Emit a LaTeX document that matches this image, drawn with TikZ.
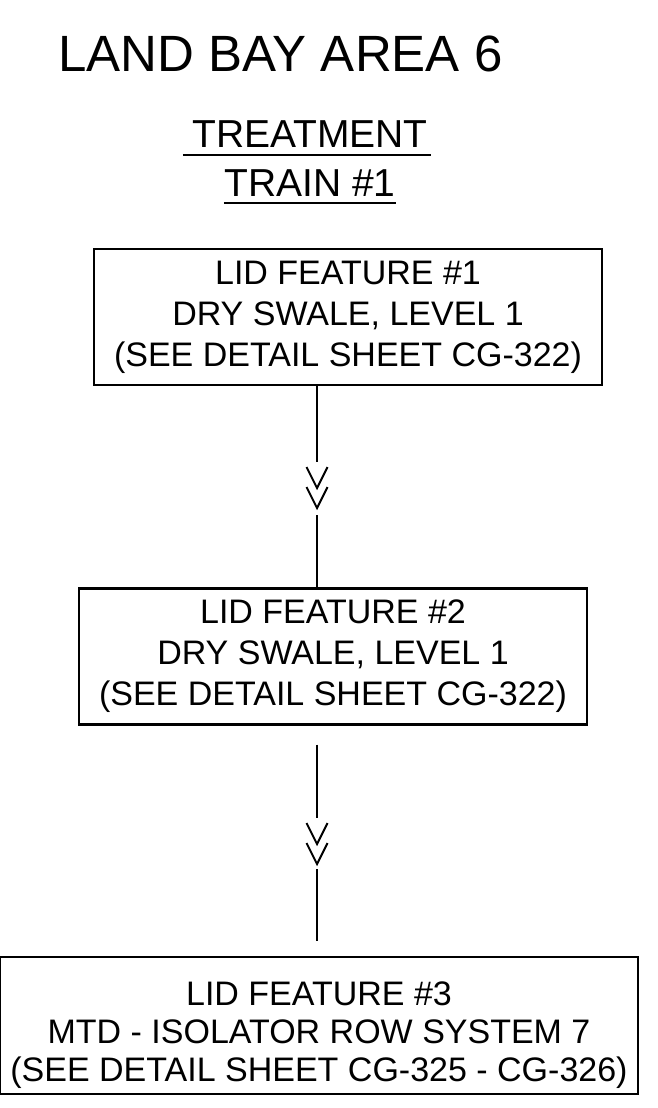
\documentclass[tikz,border=0pt]{standalone}
\usepackage{fontspec}
\setmainfont{Liberation Sans}
\usetikzlibrary{positioning}

\begin{document}
\begin{tikzpicture}[
    x=0.5pt, y=-0.5pt,
    every node/.style={inner sep=0pt},
    feature/.style = {draw, line width=1.2pt, align=center,
                      font=\fontsize{17}{20.5}\selectfont,
                      minimum width=254pt, minimum height=68pt},
    link/.style    = {line width=1pt},
    chevron/.style = {line width=1pt},
    uline/.style   = {line width=1.2pt}
]
\useasboundingbox (0,0) rectangle (658,1108);

% Heading and underlined sub-heading
\node[anchor=base west, font=\fontsize{25.5}{30}\selectfont] (title) at (58,71) {LAND BAY AREA 6};
\node[anchor=base, font=\fontsize{19.5}{24}\selectfont] (treat) at (310,147) {TREATMENT};
\node[anchor=base, font=\fontsize{19.5}{24}\selectfont] (train) at (310,196) {TRAIN \#1};
\draw[uline, shorten <=-4.5pt, shorten >=-1.5pt] ([yshift=-4pt]treat.base west) -- ([yshift=-4pt]treat.base east);
\draw[uline] ([yshift=-3.5pt]train.base west) -- ([yshift=-3.5pt]train.base east);

% The three LID features of the train
\node[feature] (b1) at (348,317) {LID FEATURE \#1\\
    DRY SWALE, LEVEL 1\\
    (SEE DETAIL SHEET CG-322)};
\node[feature] (b2) at (333,656.5) {LID FEATURE \#2\\
    DRY SWALE, LEVEL 1\\
    (SEE DETAIL SHEET CG-322)};
\node[feature, minimum width=319pt, minimum height=68.5pt,
      font=\fontsize{17}{19}\selectfont] (b3) at (319,1025.5) {\rule{0pt}{22pt}LID FEATURE \#3\\
    MTD - ISOLATOR ROW SYSTEM 7\\
    (SEE DETAIL SHEET CG-325 - CG-326)};

% Flow lines with the double chevron break
\coordinate (s1a) at (317,462);
\coordinate (k1)  at (317,467);
\coordinate (s1b) at (317,515);
\draw[link] (b1.south -| s1a) -- (s1a);
\draw[chevron] (k1) ++(-10.5,0) -- ++(10.5,21) -- ++(10.5,-21);
\draw[chevron] (k1) ++(-10.5,20) -- ++(10.5,21) -- ++(10.5,-21);
\draw[link] (s1b) -- (b2.north -| s1b);

\coordinate (s2a) at (317,818);
\coordinate (k2)  at (317,823);
\coordinate (s2b) at (317,869);
\draw[link, shorten <=9.5pt] (b2.south -| s2a) -- (s2a);
\draw[chevron] (k2) ++(-10.5,0) -- ++(10.5,21) -- ++(10.5,-21);
\draw[chevron] (k2) ++(-10.5,20) -- ++(10.5,21) -- ++(10.5,-21);
\draw[link, shorten >=7.5pt] (s2b) -- (b3.north -| s2b);

\end{tikzpicture}
\end{document}
